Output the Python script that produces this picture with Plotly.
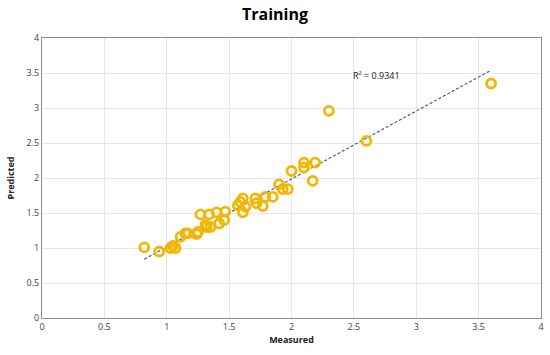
import numpy as np
import plotly.graph_objects as go

measured = [0.82, 0.94, 1.03, 1.07, 1.05, 1.11, 1.15, 1.17, 1.24, 1.25, 1.27, 1.34, 1.31, 1.32,
            1.35, 1.40, 1.42, 1.47, 1.46, 1.57, 1.59, 1.61, 1.61, 1.63, 1.71, 1.72, 1.77, 1.79,
            1.85, 1.90, 1.93, 1.97, 2.00, 2.10, 2.10, 2.19, 2.17, 2.30, 2.60, 3.60]
predicted = [1.01, 0.95, 1.00, 1.00, 1.03, 1.16, 1.21, 1.21, 1.20, 1.23, 1.48, 1.48, 1.33, 1.30,
             1.30, 1.51, 1.35, 1.52, 1.40, 1.61, 1.66, 1.71, 1.51, 1.59, 1.71, 1.64, 1.60, 1.73,
             1.73, 1.91, 1.84, 1.84, 2.10, 2.22, 2.15, 2.22, 1.96, 2.96, 2.53, 3.35]
trend_slope = 0.971
trend_intercept = 0.044
trend_x = [0.82, 3.59]
r2_text = "R² = 0.9341"
ticks = [0, 0.5, 1, 1.5, 2, 2.5, 3, 3.5, 4]

trend_y = [trend_slope * x + trend_intercept for x in trend_x]

fig = go.Figure()
fig.add_trace(go.Scatter(x=trend_x, y=trend_y, mode="lines",
                         line=dict(color="#3A5572", width=1.1, dash="3px,2px"),
                         showlegend=False, hoverinfo="skip"))
fig.add_trace(go.Scatter(x=measured, y=predicted, mode="markers",
                         marker=dict(symbol="circle-open", size=9, color="#F2B705",
                                     line=dict(width=2.8, color="#F2B705")),
                         showlegend=False))
fig.add_annotation(x=2.48, y=3.47, text=r2_text, showarrow=False, xanchor="left",
                   font=dict(size=9, color="#222", family="Open Sans, Liberation Sans"))

axis_common = dict(range=[0, 4], tickvals=ticks, ticktext=[f"{t:g}" for t in ticks],
                   showgrid=True, gridcolor="#E3E8EE", gridwidth=1, zeroline=False,
                   showline=True, linecolor="#8C8C8C", linewidth=1, mirror=True,
                   tickfont=dict(size=9, color="#444"), ticks="", automargin=False)
fig.update_layout(
    width=550, height=355,
    margin=dict(l=42, r=9, t=38, b=37),
    paper_bgcolor="white", plot_bgcolor="white",
    font=dict(family="Open Sans, Liberation Sans, sans-serif"),
    title=dict(text="<b>Training</b>", x=0.5, xanchor="center", y=0.96, yanchor="middle",
               font=dict(size=16, color="black"), automargin=False),
    xaxis=dict(**axis_common, title=dict(text="<b>Measured</b>", font=dict(size=9, color="#222"), standoff=4)),
    yaxis=dict(**axis_common, title=dict(text="<b>Predicted</b>", font=dict(size=9, color="#222"), standoff=10)),
)
fig.write_html("out.html", config={"displayModeBar": False},
               post_script="document.body.style.margin='0';document.body.style.overflow='hidden';")
